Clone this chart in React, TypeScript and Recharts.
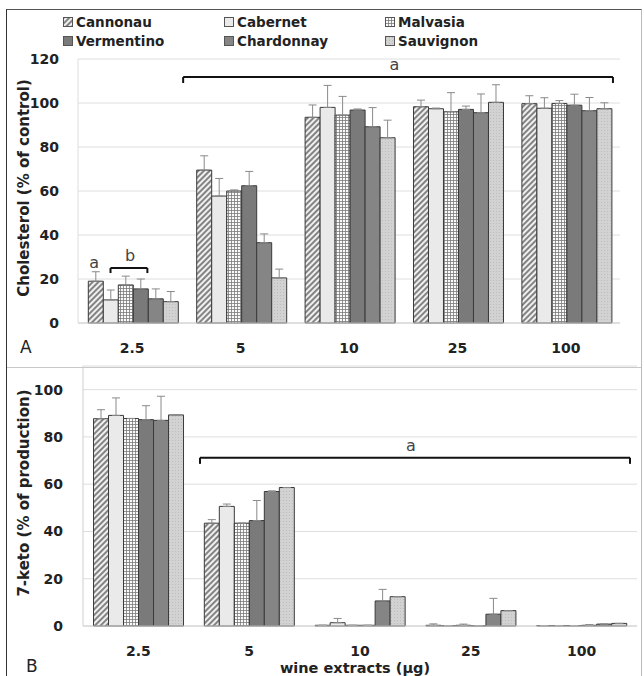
import React from 'react';
import { BarChart, Bar, XAxis, YAxis, CartesianGrid, ErrorBar, ReferenceLine, ReferenceDot, Label } from 'recharts';

const FONT = '"DejaVu Sans", Verdana, sans-serif';

const categories = ['2.5', '5', '10', '25', '100'];
const wines = ['Cannonau', 'Cabernet', 'Malvasia', 'Vermentino', 'Chardonnay', 'Sauvignon'];

// Panel A: cholesterol (% of control)
const cholCannonau = [19, 69.5, 93.5, 98.3, 99.7];
const cholCabernet = [10.5, 57.7, 98, 97.4, 97.6];
const cholMalvasia = [17.3, 60, 94.5, 96, 99.8];
const cholVermentino = [15.5, 62.4, 96.8, 97.1, 99];
const cholChardonnay = [11, 36.5, 89.2, 95.6, 96.5];
const cholSauvignon = [9.7, 20.5, 84.2, 100.3, 97.4];

const cholCannonauErr = [4.3, 6.5, 5.6, 3, 3.6];
const cholCabernetErr = [4.5, 8, 10, 0.3, 4.8];
const cholMalvasiaErr = [4, 0.5, 8.5, 8.7, 1.3];
const cholVermentinoErr = [4.5, 6.5, 0.5, 1.5, 5];
const cholChardonnayErr = [4.5, 4, 8.7, 8.5, 6];
const cholSauvignonErr = [4.6, 4, 8, 8, 2.7];

// Panel B: 7-keto (% of production)
const ketoCannonau = [87.7, 43.5, 0.3, 0.3, 0.2];
const ketoCabernet = [89.1, 50.6, 1.4, 0.2, 0.2];
const ketoMalvasia = [87.8, 43.5, 0.3, 0.3, 0.2];
const ketoVermentino = [87.3, 44.6, 0.3, 0.1, 0.3];
const ketoChardonnay = [87, 56.9, 10.6, 5, 0.8];
const ketoSauvignon = [89.3, 58.6, 12.4, 6.5, 1.1];

const ketoCannonauErr = [3.8, 1.5, 0, 0.6, 0];
const ketoCabernetErr = [7.4, 1, 1.8, 0, 0];
const ketoMalvasiaErr = [0, 0, 0, 0.5, 0];
const ketoVermentinoErr = [5.9, 8.5, 0, 0, 0.3];
const ketoChardonnayErr = [10.2, 0.3, 4.9, 6.7, 0];
const ketoSauvignonErr = [0, 0, 0, 0, 0];

const yTicksA = [0, 20, 40, 60, 80, 100, 120];
const yTicksB = [0, 20, 40, 60, 80, 100];

// category centre positions on a hidden numeric axis (0..5) used for annotations
const catPos = [0.5, 1.5, 2.5, 3.5, 4.5];

// significance annotations (x in category units on the hidden numeric axis, y in data units)
const bracketA = { x1: 0.97, x2: 4.935, y: 111.8, drop: 109.1, labelX: 2.92, labelY: 117.3, text: 'a' };
const bracketAb = { x1: 0.3, x2: 0.64, y: 25, drop: 22.7, labelX: 0.48, labelY: 30.9, text: 'b' };
const letterA = { x: 0.15, y: 27.3, text: 'a' };
const bracketB = { x1: 1.056, x2: 4.937, y: 71.2, drop: 68.6, labelX: 2.96, labelY: 76.3, text: 'a' };

const fills: Record<string, string> = {
  Cannonau: 'url(#pHatch)',
  Cabernet: '#eaeaea',
  Malvasia: 'url(#pGrid)',
  Vermentino: '#7a7a7a',
  Chardonnay: '#858585',
  Sauvignon: 'url(#pDots)',
};

function buildRows(vals: number[][], errs: number[][]) {
  return categories.map((c, i) => {
    const row: any = { cat: c, pos: catPos[i] };
    wines.forEach((w, k) => {
      row[w] = vals[k][i];
      row[w + '_e'] = [0, errs[k][i]];
    });
    return row;
  });
}

const rowsA = buildRows(
  [cholCannonau, cholCabernet, cholMalvasia, cholVermentino, cholChardonnay, cholSauvignon],
  [cholCannonauErr, cholCabernetErr, cholMalvasiaErr, cholVermentinoErr, cholChardonnayErr, cholSauvignonErr]
);
const rowsB = buildRows(
  [ketoCannonau, ketoCabernet, ketoMalvasia, ketoVermentino, ketoChardonnay, ketoSauvignon],
  [ketoCannonauErr, ketoCabernetErr, ketoMalvasiaErr, ketoVermentinoErr, ketoChardonnayErr, ketoSauvignonErr]
);

const tickStyle = { fontFamily: FONT, fontWeight: 'bold' as const, fontSize: 14, fill: '#222' };

const textShape = (t: string) => (p: any) => (
  <text x={p.cx} y={p.cy} textAnchor="middle" dominantBaseline="central" fontFamily={FONT} fontSize={16} fill="#444">
    {t}
  </text>
);

function bracketEls(b: any, key: string) {
  return [
    <ReferenceLine key={key + 'h'} xAxisId="n" segment={[{ x: b.x1, y: b.y }, { x: b.x2, y: b.y }]} stroke="#111" strokeWidth={2} ifOverflow="visible" />,
    <ReferenceLine key={key + 'l'} xAxisId="n" segment={[{ x: b.x1, y: b.y }, { x: b.x1, y: b.drop }]} stroke="#111" strokeWidth={2} ifOverflow="visible" />,
    <ReferenceLine key={key + 'r'} xAxisId="n" segment={[{ x: b.x2, y: b.y }, { x: b.x2, y: b.drop }]} stroke="#111" strokeWidth={2} ifOverflow="visible" />,
    <ReferenceDot key={key + 't'} xAxisId="n" x={b.labelX} y={b.labelY} r={0} ifOverflow="visible" shape={textShape(b.text)} />,
  ];
}

function yLabel(text: string) {
  return (
    <Label
      content={(p: any) => {
        const vb = p.viewBox || {};
        const cx = 24;
        const cy = (vb.y || 0) + (vb.height || 0) / 2 - 3;
        return (
          <text x={cx} y={cy} transform={`rotate(-90, ${cx}, ${cy})`} textAnchor="middle" dominantBaseline="central" fontFamily={FONT} fontWeight="bold" fontSize={15} fill="#222">
            {text}
          </text>
        );
      }}
    />
  );
}

function bars() {
  return wines.map((w) => (
    <Bar key={w} dataKey={w} fill={fills[w]} stroke="#3a3a3a" strokeWidth={1} isAnimationActive={false}>
      <ErrorBar dataKey={w + '_e'} width={4} stroke="#8a8a8a" strokeWidth={1} direction="y" />
    </Bar>
  ));
}

function Legend() {
  const cols = [63, 224, 385];
  return (
    <>
      {wines.map((w, i) => {
        const col = cols[i % 3];
        const top = i < 3 ? 14 : 33;
        return (
          <div key={w} style={{ position: 'absolute', left: col, top, height: 16, display: 'flex', alignItems: 'center', fontFamily: FONT, fontWeight: 'bold', fontSize: 13.5, color: '#222' }}>
            <svg width={10} height={10} style={{ marginRight: 3 }}>
              <rect x={0.5} y={0.5} width={9} height={9} fill={fills[w]} stroke="#555" strokeWidth={1} />
            </svg>
            <span>{w}</span>
          </div>
        );
      })}
    </>
  );
}

export default function App() {
  return (
    <div style={{ position: 'absolute', left: 0, top: 0, width: 644, height: 676, overflow: 'hidden', background: '#fff' }}>
      <svg width={0} height={0} style={{ position: 'absolute' }}>
        <defs>
          <pattern id="pHatch" width={4} height={4} patternUnits="userSpaceOnUse" patternTransform="rotate(45)">
            <rect width={4} height={4} fill="#f0f0f0" />
            <line x1={1} y1={0} x2={1} y2={4} stroke="#555" strokeWidth={1.4} />
          </pattern>
          <pattern id="pGrid" width={3} height={3} patternUnits="userSpaceOnUse">
            <rect width={3} height={3} fill="#fafafa" />
            <path d="M0 0.5 H3 M0.5 0 V3" stroke="#7a7a7a" strokeWidth={0.8} />
          </pattern>
          <pattern id="pDots" width={3} height={3} patternUnits="userSpaceOnUse">
            <rect width={3} height={3} fill="#d2d2d2" />
            <rect x={1} y={1} width={1} height={1} fill="#bdbdbd" />
          </pattern>
        </defs>
      </svg>

      <div style={{ position: 'absolute', left: 6, top: 9, width: 634, height: 720, borderLeft: '1.5px solid #333', borderTop: '1.5px solid #555', borderRight: '1px solid #bbb' }} />
      <div style={{ position: 'absolute', left: 7, top: 367, width: 634, height: 0, borderTop: '1px solid #c8c8c8' }} />

      <Legend />

      <div style={{ position: 'absolute', left: 0, top: 0 }}>
        <BarChart width={644} height={368} data={rowsA} margin={{ top: 59, right: 24, left: 0, bottom: 15 }} barCategoryGap="9.5%" barGap={0}>
          <CartesianGrid vertical={false} stroke="#dedede" />
          <XAxis dataKey="cat" height={30} tickLine={false} axisLine={{ stroke: '#cfcfcf' }} tick={tickStyle} tickMargin={14} />
          <XAxis xAxisId="n" dataKey="pos" type="number" domain={[0, 5]} allowDataOverflow hide />
          <YAxis width={78} domain={[0, 120]} ticks={yTicksA} tickLine={false} axisLine={{ stroke: '#dedede' }} tick={tickStyle} tickMargin={13}>
            {yLabel('Cholesterol (%  of control)')}
          </YAxis>
          {bars()}
          {bracketEls(bracketA, 'A1')}
          {bracketEls(bracketAb, 'A2')}
          <ReferenceDot xAxisId="n" x={letterA.x} y={letterA.y} r={0} ifOverflow="visible" shape={textShape(letterA.text)} />
        </BarChart>
      </div>

      <div style={{ position: 'absolute', left: 0, top: 340 }}>
        <BarChart width={644} height={380} data={rowsB} margin={{ top: 26, right: 7, left: 0, bottom: 64 }} barCategoryGap="9.5%" barGap={0}>
          <CartesianGrid vertical={false} stroke="#dedede" />
          <XAxis dataKey="cat" height={30} tickLine={false} axisLine={{ stroke: '#cfcfcf' }} tick={tickStyle} tickMargin={14}>
            <Label value="wine extracts (µg)" position="bottom" offset={7} dx={-5} style={{ fontFamily: FONT, fontWeight: 'bold', fontSize: 14.5, fill: '#222' }} />
          </XAxis>
          <XAxis xAxisId="n" dataKey="pos" type="number" domain={[0, 5]} allowDataOverflow hide />
          <YAxis width={83} domain={[0, 110]} ticks={yTicksB} tickLine={false} axisLine={{ stroke: '#cfcfcf' }} tick={tickStyle} tickMargin={14}>
            {yLabel('7-keto (% of production)')}
          </YAxis>
          {bars()}
          {bracketEls(bracketB, 'B1')}
        </BarChart>
      </div>

      <div style={{ position: 'absolute', left: 20, top: 337, fontFamily: FONT, fontSize: 17, color: '#222' }}>A</div>
      <div style={{ position: 'absolute', left: 26, top: 656, fontFamily: FONT, fontSize: 17, color: '#222' }}>B</div>
    </div>
  );
}
